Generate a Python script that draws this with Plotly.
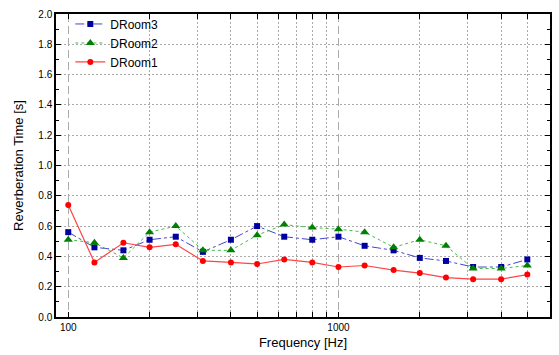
import plotly.graph_objects as go

freqs = [100, 125, 160, 200, 250, 315, 400, 500, 630, 800, 1000, 1250, 1600, 2000, 2500, 3150, 4000, 5000]
droom3 = [0.56, 0.46, 0.44, 0.51, 0.53, 0.43, 0.51, 0.60, 0.53, 0.51, 0.53, 0.47, 0.44, 0.39, 0.37, 0.33, 0.33, 0.38]
droom2 = [0.51, 0.49, 0.39, 0.56, 0.60, 0.44, 0.44, 0.54, 0.61, 0.59, 0.58, 0.56, 0.46, 0.51, 0.47, 0.32, 0.32, 0.34]
droom1 = [0.74, 0.36, 0.49, 0.46, 0.48, 0.37, 0.36, 0.35, 0.38, 0.36, 0.33, 0.34, 0.31, 0.29, 0.26, 0.25, 0.25, 0.28]

x_major = [100, 1000]
x_major_text = ["100", "1000"]
x_minor = [200, 300, 400, 500, 600, 700, 800, 900, 2000, 3000, 4000, 5000]

FONT = "Liberation Sans, Arial, sans-serif"

fig = go.Figure()
fig.add_trace(go.Scatter(
    x=freqs, y=droom3, name="DRoom3", mode="lines+markers",
    line=dict(color="#4444cc", width=1, dash="dashdot"),
    marker=dict(symbol="square", size=6, color="#0000a0"),
))
fig.add_trace(go.Scatter(
    x=freqs, y=droom2, name="DRoom2", mode="lines+markers",
    line=dict(color="#44bb44", width=1, dash="dot"),
    marker=dict(symbol="triangle-up", size=8, color="#008000"),
))
fig.add_trace(go.Scatter(
    x=freqs, y=droom1, name="DRoom1", mode="lines+markers",
    line=dict(color="#ff4444", width=1.2),
    marker=dict(symbol="circle", size=6, color="#ff0000"),
))

fig.update_layout(
    width=559, height=355,
    margin=dict(l=56, r=7, t=14, b=37),
    paper_bgcolor="white", plot_bgcolor="white",
    font=dict(family=FONT, size=11, color="black"),
    showlegend=True,
    legend=dict(x=0.029, y=1.015, xanchor="left", yanchor="top",
                bgcolor="rgba(255,255,255,0)", font=dict(size=12),
                tracegroupgap=0, itemwidth=30),
)

fig.update_xaxes(
    type="log", range=[1.9547, 3.7829],
    tickmode="array", tickvals=x_major, ticktext=x_major_text,
    showgrid=True, gridcolor="#aaaaaa", gridwidth=1, griddash="8px,4px",
    showline=True, linecolor="black", linewidth=1.5, mirror="allticks",
    ticks="inside", ticklen=5, tickcolor="black",
    tickfont=dict(size=10),
    minor=dict(tickmode="array", tickvals=x_minor, showgrid=True,
               gridcolor="#aaaaaa", gridwidth=1, griddash="2px,2px",
               ticks="inside", ticklen=5, tickcolor="black"),
    title=dict(text="Frequency [Hz]", font=dict(size=13), standoff=6),
    zeroline=False,
)
fig.update_yaxes(
    range=[0, 2.0], dtick=0.2, tickformat=".1f",
    showgrid=True, gridcolor="#aaaaaa", gridwidth=1, griddash="2px,2px",
    showline=True, linecolor="black", linewidth=1.5, mirror="allticks",
    ticks="inside", ticklen=5, tickcolor="black",
    tickfont=dict(size=10),
    minor=dict(dtick=0.1, ticks="inside", ticklen=3, tickcolor="black", showgrid=False),
    title=dict(text="Reverberation Time [s]", font=dict(size=13), standoff=12),
    zeroline=False,
)

fig.write_html("out.html")
